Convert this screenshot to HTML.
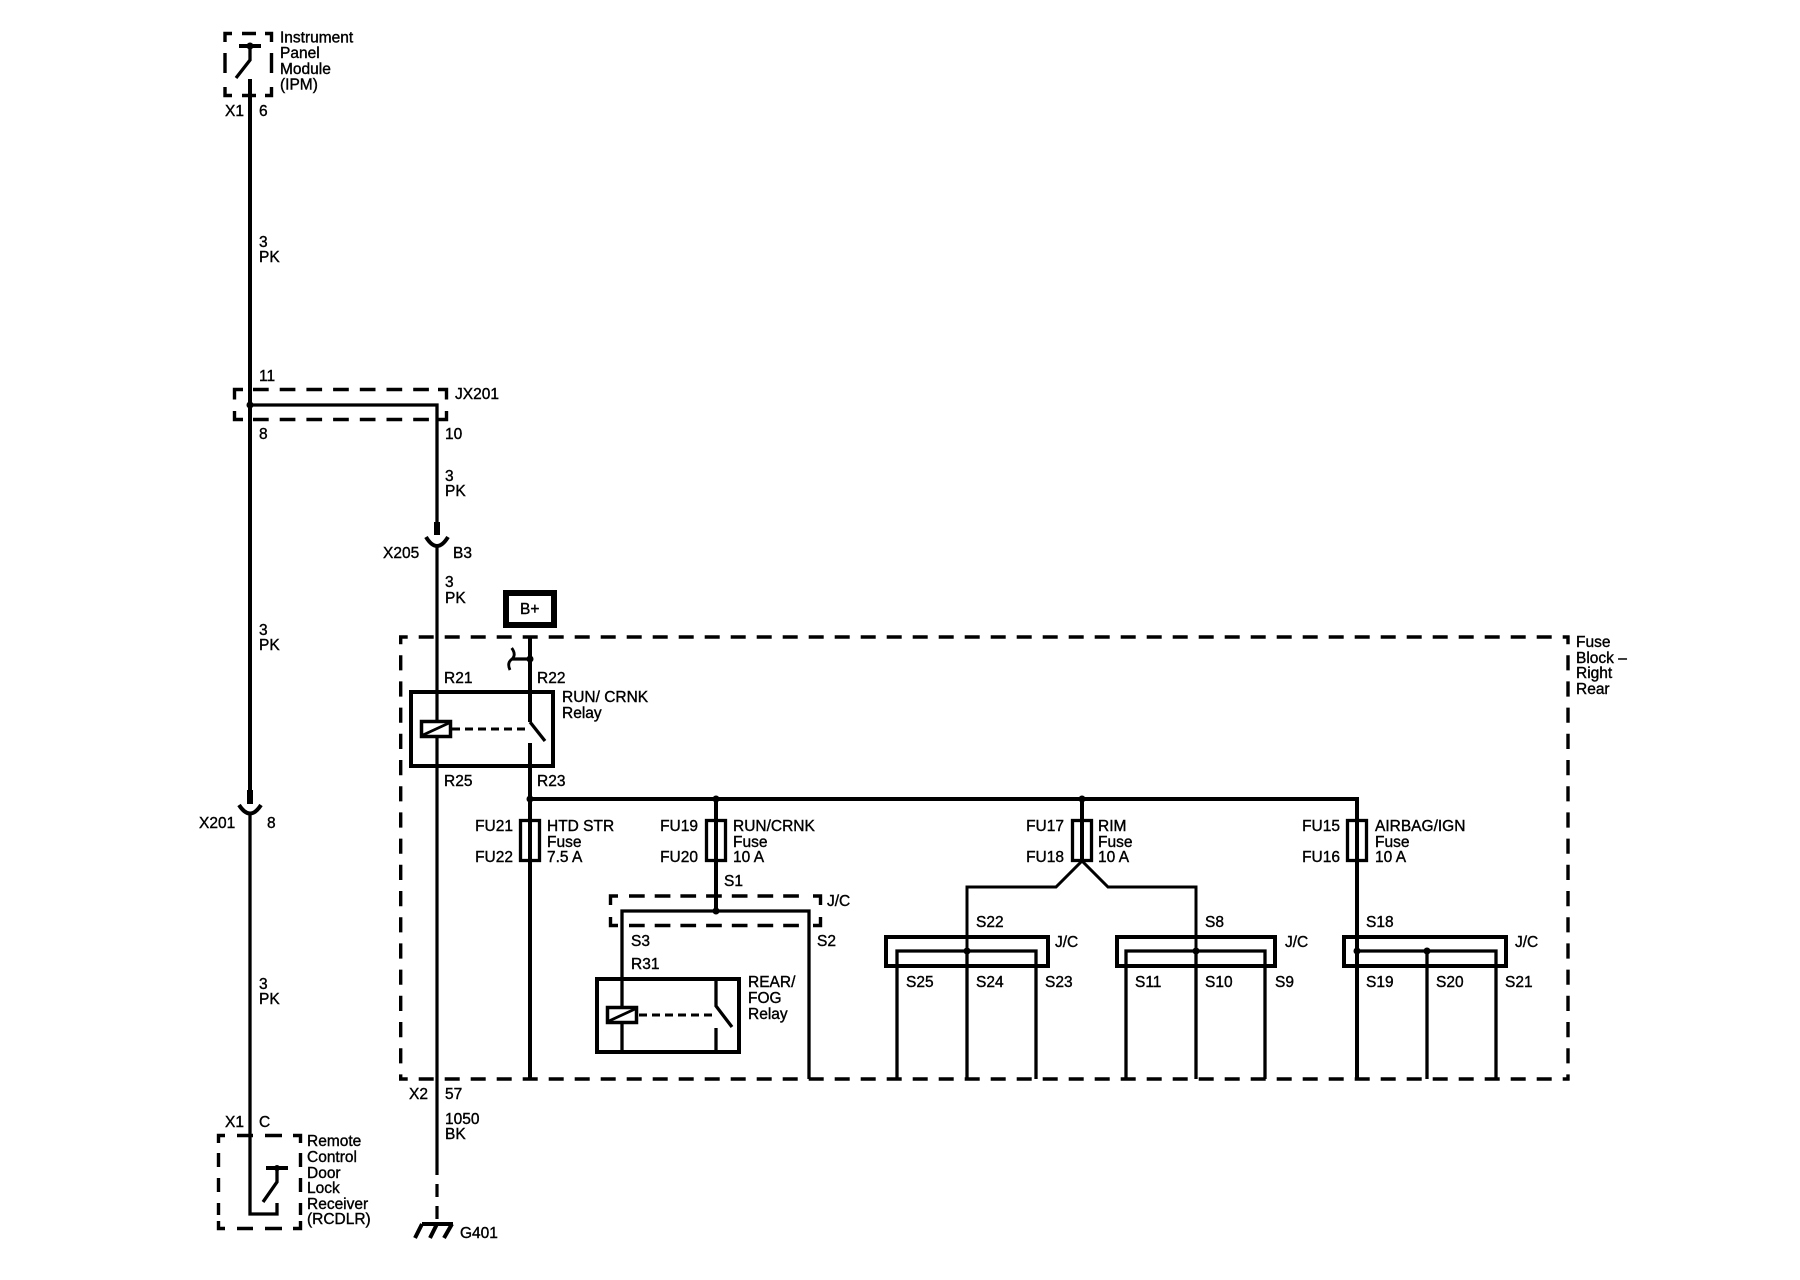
<!DOCTYPE html>
<html><head><meta charset="utf-8"><style>
html,body{margin:0;padding:0;background:#fff}
svg{display:block}
text{font-family:"Liberation Sans",sans-serif;font-size:15.5px;fill:#000;stroke:#000;stroke-width:.38px}
.w{fill:none;stroke:#000;stroke-width:3.3}
.n{fill:none;stroke:#000;stroke-width:2.8}
.d{fill:none;stroke:#000;stroke-width:3.4}
.b{fill:none;stroke:#000;stroke-width:4}
.e{text-anchor:end}
</style></head><body>
<svg width="1800" height="1280" viewBox="0 0 1800 1280" xmlns="http://www.w3.org/2000/svg">
<rect width="1800" height="1280" fill="#fff"/>
<!-- IPM -->
<path class="d" d="M225 42V33.500H232M242 33.500H256M265 33.500H271.500V42M225 53V73M271.500 53V73M225 87V95.500H232M242 95.500H256M265 95.500H271.500V87"/>
<path class="b" d="M239 46H261"/><circle cx="250" cy="46" r="3.5"/>
<path class="w" d="M250 46V60L236 78"/>
<path class="b" d="M250 79V790"/>
<text x="280" y="42.5">Instrument</text><text x="280" y="58">Panel</text><text x="280" y="74">Module</text><text x="280" y="89.5">(IPM)</text>
<text x="225" y="116">X1</text><text x="259" y="116">6</text>
<text x="259" y="247">3</text><text x="259" y="262">PK</text>
<text x="259" y="381">11</text>
<!-- JX201 -->
<path class="d" d="M234.500 399.500V389.500H243M438 389.500H446.500V399.500M234.500 411V419.500H243M438 419.500H446.500V411"/>
<path class="d" style="stroke-dasharray:15.7 11" d="M253 389.500H430M253 419.500H430"/>
<circle cx="250" cy="405" r="3.5"/>
<path class="w" d="M250 405H437V534"/>
<text x="455" y="399">JX201</text><text x="259" y="439">8</text><text x="445" y="439">10</text>
<text x="445" y="481">3</text><text x="445" y="496">PK</text>
<text x="259" y="635">3</text><text x="259" y="650">PK</text>
<!-- X201 plug -->
<rect x="247" y="790" width="6" height="14"/>
<path class="b" d="M239 805Q250 822 261 805"/>
<path class="w" d="M250 813V1214H277V1203"/>
<text x="199" y="828">X201</text><text x="267" y="828">8</text>
<text x="259" y="989">3</text><text x="259" y="1004">PK</text>
<text x="225" y="1127">X1</text><text x="259" y="1127">C</text>
<!-- RCDLR -->
<path class="d" d="M218.500 1143V1135.500H225M237 1135.500H253M265 1135.500H282M293 1135.500H300.500V1143M218.500 1153V1167M300.500 1153V1167M218.500 1178V1192M300.500 1178V1192M218.500 1203V1215M300.500 1203V1215M218.500 1221V1228.500H225M237 1228.500H253M265 1228.500H282M293 1228.500H300.500V1221"/>
<path class="b" d="M266 1168H288"/><circle cx="277" cy="1168" r="3"/>
<path class="w" d="M277 1168V1182L263 1202"/>
<text x="307" y="1146">Remote</text><text x="307" y="1162">Control</text><text x="307" y="1178">Door</text><text x="307" y="1193">Lock</text><text x="307" y="1209">Receiver</text><text x="307" y="1224">(RCDLR)</text>
<!-- X205 plug -->
<rect x="434" y="522" width="6" height="13"/>
<path class="b" d="M426 537Q437 555 448 537"/>
<path class="n" style="stroke-width:3.2" d="M437 545V1162"/>
<path class="n" style="stroke-width:3.2;stroke-dasharray:13 9" d="M437 1162V1224"/>
<text x="383" y="558">X205</text><text x="453" y="558">B3</text>
<text x="445" y="587">3</text><text x="445" y="603">PK</text>
<text x="409" y="1099">X2</text><text x="445" y="1099">57</text>
<text x="445" y="1124">1050</text><text x="445" y="1139">BK</text>
<!-- Ground -->
<path class="b" d="M422 1224H453M422 1224L415 1238M437 1224L430 1238M452 1224L444 1238"/>
<text x="460" y="1238">G401</text>
<!-- B+ -->
<rect x="506" y="593" width="48" height="32" fill="none" stroke="#000" stroke-width="6"/>
<text x="520" y="614">B+</text>
<!-- Fuse Block -->
<path class="d" style="stroke-dasharray:15 11;stroke-dashoffset:6.300" d="M399 637H1569.500M399 1079H1569.500"/>
<path class="d" style="stroke-dasharray:15.2 11;stroke-dashoffset:6.500" d="M400.700 635.500V1080.500M1568 635.500V1080.500"/>
<text x="1576" y="647">Fuse</text><text x="1576" y="663">Block –</text><text x="1576" y="678">Right</text><text x="1576" y="694">Rear</text>
<!-- RUN/CRNK relay -->
<path class="b" d="M530 636V722"/><path class="w" d="M530 722L545 741"/><path class="b" d="M530 743V1079"/>
<circle cx="530" cy="659" r="3.5"/>
<path class="w" d="M530 659H512"/>
<path class="n" d="M511.700 648Q516.700 655 511.700 659.300Q506.700 663 510 670"/>
<text x="444" y="683">R21</text><text x="537" y="683">R22</text>
<rect x="411" y="692" width="142" height="74" class="b"/>
<rect x="421.500" y="721.500" width="29" height="15" fill="#fff" stroke="#000" stroke-width="3.500"/>
<path class="n" d="M423 735L449 723"/>
<path class="b" style="stroke-width:3;stroke-dasharray:8 5" d="M452 729H530"/>
<text x="562" y="702">RUN/ CRNK</text><text x="562" y="718">Relay</text>
<text x="444" y="786">R25</text><text x="537" y="786">R23</text>
<!-- Bus -->
<path class="b" d="M530 799H1357V1079"/>
<circle cx="530" cy="799" r="3.500"/><circle cx="716" cy="799" r="3.500"/><circle cx="1082" cy="799" r="3.500"/>
<!-- Fuses -->
<rect x="520.500" y="820.500" width="19" height="40" class="w"/>
<path class="b" d="M716 799V911"/>
<rect x="706.500" y="820.500" width="19" height="40" class="w"/>
<path class="b" d="M1082 799V862"/>
<rect x="1072.500" y="820.500" width="19" height="40" class="w"/>
<rect x="1347.500" y="820.500" width="19" height="40" class="w"/>
<g class="lab">
<text class="e" x="513" y="831">FU21</text><text class="e" x="513" y="862">FU22</text>
<text x="547" y="831">HTD STR</text><text x="547" y="847">Fuse</text><text x="547" y="862">7.5 A</text>
<text class="e" x="698" y="831">FU19</text><text class="e" x="698" y="862">FU20</text>
<text x="733" y="831">RUN/CRNK</text><text x="733" y="847">Fuse</text><text x="733" y="862">10 A</text>
<text class="e" x="1064" y="831">FU17</text><text class="e" x="1064" y="862">FU18</text>
<text x="1098" y="831">RIM</text><text x="1098" y="847">Fuse</text><text x="1098" y="862">10 A</text>
<text class="e" x="1340" y="831">FU15</text><text class="e" x="1340" y="862">FU16</text>
<text x="1375" y="831">AIRBAG/IGN</text><text x="1375" y="847">Fuse</text><text x="1375" y="862">10 A</text>
</g>
<!-- S1 J/C -->
<text x="724" y="886">S1</text>
<path class="d" d="M610.500 905V896H618M813 896H820.500V905M610.500 917V925.500H618M813 925.500H820.500V917"/>
<path class="d" style="stroke-dasharray:15.7 10" d="M629 896H806M629 925.500H806"/>
<path class="w" d="M622 1052V911H809V1079"/>
<circle cx="716" cy="911" r="3.500"/>
<text x="827" y="906">J/C</text><text x="631" y="946">S3</text><text x="817" y="946">S2</text><text x="631" y="969">R31</text>
<!-- REAR/FOG relay -->
<rect x="597" y="979" width="142" height="73" class="b"/>
<rect x="607.500" y="1007.500" width="29" height="15" fill="#fff" stroke="#000" stroke-width="3.500"/>
<path class="n" d="M609 1021L635 1009"/>
<path class="b" style="stroke-width:3;stroke-dasharray:8 5" d="M639 1015H716"/>
<path class="w" d="M716 979V1006L732 1027M716 1028V1052"/>
<text x="748" y="987">REAR/</text><text x="748" y="1003">FOG</text><text x="748" y="1019">Relay</text>
<!-- Rim Y -->
<path class="w" style="stroke-width:3" d="M967 951V887H1056L1082 861L1108 887H1196V951"/>
<!-- J/C boxes -->
<rect x="886" y="937" width="162" height="29" class="b"/>
<path class="w" d="M897 1079V951H1036V1079M967 951V1079"/><circle cx="967" cy="951" r="3.500"/>
<text x="976" y="927">S22</text><text x="1055" y="947">J/C</text>
<text x="906" y="987">S25</text><text x="976" y="987">S24</text><text x="1045" y="987">S23</text>
<rect x="1117" y="937" width="158" height="29" class="b"/>
<path class="w" d="M1126 1079V951H1265V1079M1196 951V1079"/><circle cx="1196" cy="951" r="3.500"/>
<text x="1205" y="927">S8</text><text x="1285" y="947">J/C</text>
<text x="1135" y="987">S11</text><text x="1205" y="987">S10</text><text x="1275" y="987">S9</text>
<rect x="1344" y="937" width="162" height="29" class="b"/>
<path class="w" d="M1357 951H1496V1079M1427 951V1079"/><circle cx="1357" cy="951" r="3.500"/><circle cx="1427" cy="951" r="3.500"/>
<text x="1366" y="927">S18</text><text x="1515" y="947">J/C</text>
<text x="1366" y="987">S19</text><text x="1436" y="987">S20</text><text x="1505" y="987">S21</text>
</svg>
</body></html>
